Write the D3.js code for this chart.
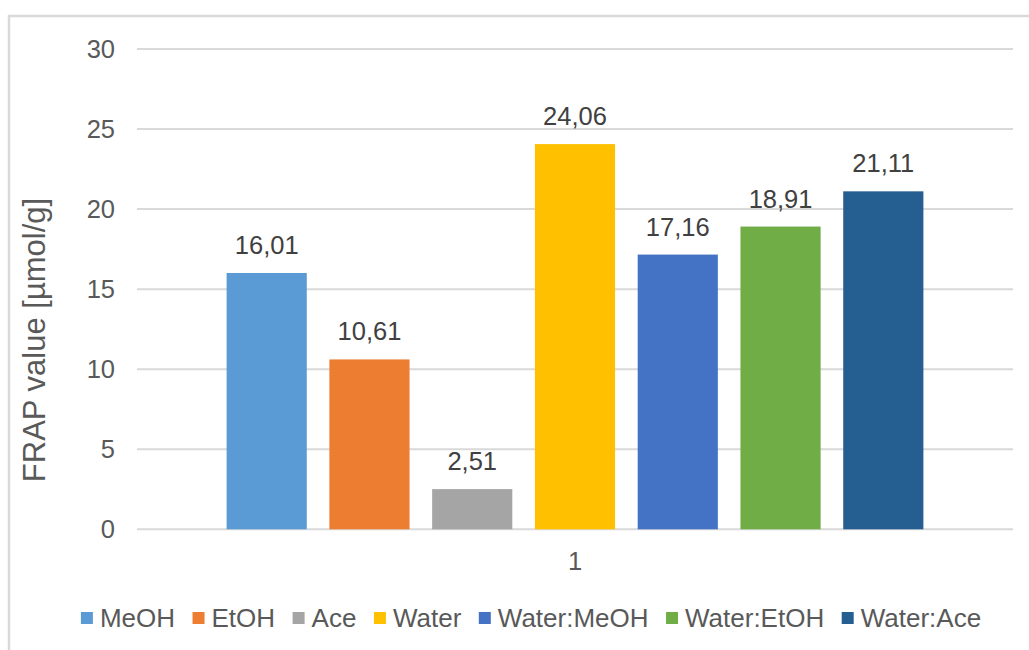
<!DOCTYPE html>
<html>
<head>
<meta charset="utf-8">
<script src="https://cdn.jsdelivr.net/npm/d3@7"></script>
<style>
  html, body { margin: 0; padding: 0; background: #fff; }
  svg { display: block; font-family: "Liberation Sans", Arial, sans-serif; }
</style>
</head>
<body>
<svg id="chart" width="1029" height="650"></svg>
<script>
// FRAP values per extraction solvent (single category "1")
const categories = ["1"];
const seriesNames = ["MeOH", "EtOH", "Ace", "Water", "Water:MeOH", "Water:EtOH", "Water:Ace"];
const seriesValues = [16.01, 10.61, 2.51, 24.06, 17.16, 18.91, 21.11];
const seriesColors = ["#5B9BD5", "#ED7D31", "#A5A5A5", "#FFC000", "#4472C4", "#70AD47", "#255E91"];
const yTicks = [0, 5, 10, 15, 20, 25, 30];
const yTitle = "FRAP value [µmol/g]";

const svg = d3.select("#chart");
const FONT = "25.5px";

// chart frame (extends past the right/bottom edge)
const frame = { left: 9, top: 16, right: 1053, bottom: 672 };
const plot = { left: 137, right: 1013, top: 49, bottom: 529.3 };

svg.append("rect")
  .attr("x", frame.left).attr("y", frame.top)
  .attr("width", frame.right - frame.left).attr("height", frame.bottom - frame.top)
  .attr("fill", "#fff").attr("stroke", "#d9d9d9").attr("stroke-width", 2.5);

const y = d3.scaleLinear().domain([0, 30]).range([plot.bottom, plot.top]);

const x0 = d3.scaleBand().domain(categories)
  .range([plot.left, plot.right]).paddingInner(0).paddingOuter(0.1286);
const x1 = d3.scaleBand().domain(seriesNames)
  .range([0, x0.bandwidth()]).paddingInner(0.22).paddingOuter(0);

// gridlines
svg.append("g").selectAll("line").data(yTicks).join("line")
  .attr("x1", plot.left).attr("x2", plot.right)
  .attr("y1", d => y(d)).attr("y2", d => y(d))
  .attr("stroke", "#d9d9d9").attr("stroke-width", 2);

// y axis tick labels
const yAxis = d3.axisLeft(y).tickValues(yTicks).tickSize(0).tickPadding(0).tickFormat(d3.format("d"));
const gy = svg.append("g").attr("transform", `translate(115,0)`).call(yAxis);
gy.select(".domain").remove();
gy.selectAll("text").attr("fill", "#595959").style("font-size", FONT)
  .style("font-family", "'Liberation Sans', Arial, sans-serif");

// category axis label
const xAxis = d3.axisBottom(x0).tickSize(0).tickPadding(0);
const gx = svg.append("g").attr("transform", `translate(0,${plot.bottom + 23})`).call(xAxis);
gx.select(".domain").remove();
gx.selectAll("text").attr("fill", "#595959").style("font-size", FONT)
  .style("font-family", "'Liberation Sans', Arial, sans-serif");

// bars
const data = seriesNames.map((s, i) => ({ cat: categories[0], name: s, value: seriesValues[i], color: seriesColors[i] }));
svg.append("g").selectAll("rect").data(data).join("rect")
  .attr("x", d => x0(d.cat) + x1(d.name))
  .attr("y", d => y(d.value))
  .attr("width", x1.bandwidth())
  .attr("height", d => y(0) - y(d.value))
  .attr("fill", d => d.color);

// value labels
const fmt = v => d3.format(".2f")(v).replace(".", ",");
svg.append("g").selectAll("text").data(data).join("text")
  .attr("x", d => x0(d.cat) + x1(d.name) + x1.bandwidth() / 2)
  .attr("y", d => y(d.value) - 19)
  .attr("text-anchor", "middle")
  .attr("fill", "#404040")
  .style("font-size", FONT)
  .text(d => fmt(d.value));

// y axis title
svg.append("text")
  .attr("transform", `translate(45,340) rotate(-90)`)
  .attr("text-anchor", "middle")
  .attr("fill", "#595959")
  .style("font-size", "31px")
  .text(yTitle);

// legend
const legend = svg.append("g");
const sq = 12, gapText = 7, gapItem = 17.5, legendY = 618;
let cx = 0;
const items = [];
data.forEach(d => {
  const g = legend.append("g");
  g.append("rect").attr("x", 0).attr("y", legendY - sq / 2).attr("width", sq).attr("height", sq).attr("fill", d.color);
  const t = g.append("text").attr("x", sq + gapText).attr("y", legendY + 9)
    .attr("fill", "#595959").style("font-size", "26px").text(d.name);
  const w = sq + gapText + t.node().getComputedTextLength();
  items.push({ g, x: cx });
  cx += w + gapItem;
});
const totalW = cx - gapItem;
const startX = 531 - totalW / 2;
items.forEach(it => it.g.attr("transform", `translate(${startX + it.x},0)`));
</script>
</body>
</html>
